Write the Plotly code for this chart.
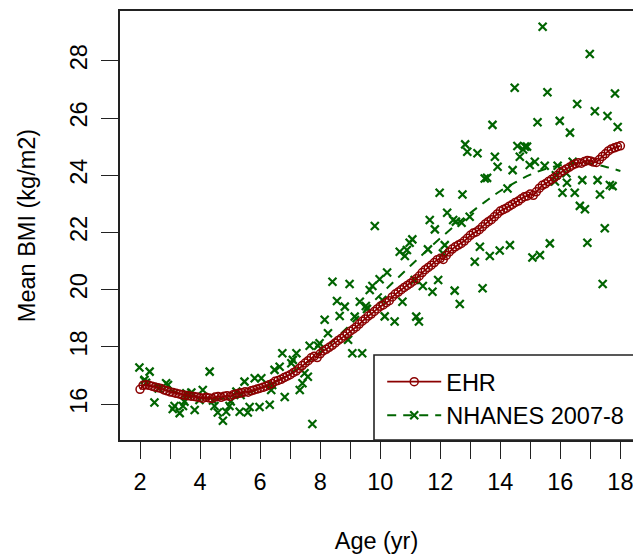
import plotly.graph_objects as go

# ---------------- data ----------------
ehr_age = [round(2 + 0.1 * i, 1) for i in range(161)]
ehr_bmi = [
    16.52, 16.66, 16.68, 16.66, 16.63, 16.60, 16.58, 16.55, 16.50, 16.47,
    16.43, 16.41, 16.38, 16.36, 16.33, 16.31, 16.30, 16.28, 16.27, 16.25,
    16.23, 16.21, 16.24, 16.22, 16.20, 16.25, 16.27, 16.24, 16.28, 16.30,
    16.27, 16.33, 16.36, 16.38, 16.40, 16.44, 16.42, 16.47, 16.50, 16.53,
    16.56, 16.59, 16.63, 16.68, 16.72, 16.80, 16.83, 16.87, 16.93, 16.98,
    17.03, 17.10, 17.16, 17.25, 17.35, 17.44, 17.52, 17.62, 17.68, 17.63,
    17.76, 17.86, 17.92, 17.99, 18.06, 18.14, 18.23, 18.30, 18.38, 18.47,
    18.55, 18.62, 18.70, 18.80, 18.90, 18.98, 19.08, 19.15, 19.24, 19.33,
    19.42, 19.47, 19.55, 19.62, 19.75, 19.85, 19.92, 20.00, 20.08, 20.15,
    20.22, 20.30, 20.38, 20.48, 20.60, 20.70, 20.78, 20.86, 20.95, 21.05,
    21.10, 21.06, 21.20, 21.32, 21.42, 21.50, 21.56, 21.62, 21.70, 21.80,
    21.90, 21.98, 22.02, 22.10, 22.20, 22.30, 22.38, 22.45, 22.55, 22.65,
    22.75, 22.80, 22.85, 22.92, 22.98, 23.05, 23.10, 23.18, 23.25, 23.28,
    23.35, 23.30, 23.42, 23.55, 23.65, 23.70, 23.78, 23.85, 23.92, 24.00,
    24.10, 24.16, 24.22, 24.28, 24.35, 24.40, 24.44, 24.42, 24.48, 24.52,
    24.50, 24.46, 24.45, 24.55, 24.66, 24.75, 24.85, 24.92, 24.96, 25.00,
    25.03,
]

nh_age = [
    1.98, 2.32, 2.15, 2.48, 2.87, 2.93, 3.09, 3.15, 3.32, 3.43, 3.48, 3.59,
    3.71, 3.82, 4.09, 4.32, 4.48, 4.59, 4.76, 4.87, 4.98, 5.21, 5.32, 5.48,
    5.59, 5.65, 5.82, 5.98, 6.04, 6.32, 6.37, 6.48, 6.65, 6.74, 6.82, 7.04,
    7.09, 7.21, 7.32, 7.41, 7.48, 7.59, 7.65, 7.74, 7.93, 3.54, 3.98, 4.43,
    5.02, 5.35, 6.40, 2.62, 2.20, 7.98,
    8.15, 8.26, 8.41, 8.56, 8.65, 8.82, 8.93, 8.98, 9.07, 9.15, 9.32, 9.40,
    9.52, 9.56, 9.65, 9.74, 9.82, 9.98,
    10.07, 10.15, 10.23, 10.48, 10.65, 10.74, 10.82, 10.89, 10.98, 11.07,
    11.15, 11.20, 11.29, 11.42, 11.59, 11.65, 11.74, 11.82, 11.93, 11.98,
    12.09, 12.15, 12.23, 12.43, 12.48, 12.52, 12.65, 12.71, 12.74, 12.83,
    12.90, 12.98, 13.15, 13.24, 13.32, 13.41, 13.48, 13.56, 13.65, 13.74,
    13.82, 13.91, 13.98, 14.24, 14.32, 14.41, 14.48, 14.57, 14.65, 14.76,
    14.82, 14.89, 14.98, 15.07, 15.15, 15.24, 15.32, 15.41, 15.48, 15.57,
    15.65, 15.82, 15.85, 15.91, 15.98, 16.07, 16.20, 16.22, 16.32, 16.41,
    16.48, 16.56, 16.65, 16.73, 16.82, 16.90, 16.98, 17.15, 17.24, 17.32,
    17.41, 17.48, 17.57, 17.65, 17.74, 17.82, 17.91,
]
nh_bmi = [
    17.28, 17.14, 16.85, 16.06, 16.73, 16.67, 15.83, 15.94, 15.69, 15.94, 16.09, 16.32,
    16.41, 15.80, 16.50, 17.14, 15.94, 15.71, 15.42, 15.74, 15.94, 16.44, 15.74, 16.79,
    15.71, 15.90, 16.91, 15.90, 16.91, 15.98, 16.50, 17.20, 17.31, 17.78, 16.25, 17.43,
    17.55, 17.78, 16.50, 16.73, 17.08, 16.96, 18.04, 15.31, 18.04, 16.38, 16.15, 16.13,
    16.10, 16.32, 16.67, 16.55, 16.75, 18.13,
    18.95, 18.48, 20.28, 19.61, 19.08, 19.41, 18.25, 20.20, 17.78, 19.06, 19.58, 17.78,
    19.43, 19.33, 19.99, 20.13, 22.23, 20.37,
    19.64, 19.07, 20.60, 18.89, 21.33, 19.58, 21.18, 21.39, 21.64, 21.76,
    20.34, 19.06, 18.89, 20.13, 21.41, 22.44, 19.93, 22.11, 20.34, 23.39,
    21.27, 21.56, 22.69, 22.44, 19.97, 22.38, 19.50, 22.34, 23.33, 25.08,
    24.82, 22.55, 20.98, 24.77, 21.50, 20.05, 23.89, 23.91, 21.18, 25.76,
    24.65, 24.30, 21.37, 23.54, 21.56, 24.18, 27.06, 25.02, 24.65, 24.90,
    25.00, 25.00, 24.36, 21.13, 24.47, 25.85, 21.21, 29.19, 24.33, 26.90,
    21.62, 23.78, 24.00, 24.33, 25.90, 23.39, 24.07, 23.74, 25.49, 24.47,
    23.39, 26.49, 22.93, 23.83, 22.81, 21.64, 28.24, 26.24, 23.83, 23.33,
    20.20, 22.15, 26.07, 23.66, 23.62, 26.86, 25.69,
]

fit_age = [2.0, 2.5, 3.0, 3.5, 4.0, 4.5, 5.0, 5.5, 6.0, 6.5, 7.0, 7.5, 8.0, 8.5,
           9.0, 9.5, 10.0, 10.5, 11.0, 11.5, 12.0, 12.5, 13.0, 13.5, 14.0, 14.5,
           15.0, 15.5, 16.0, 16.5, 17.0, 17.5, 18.0]
fit_bmi = [16.95, 16.70, 16.50, 16.33, 16.22, 16.18, 16.22, 16.35, 16.55, 16.78,
           17.08, 17.42, 17.82, 18.28, 18.78, 19.30, 19.82, 20.33, 20.83, 21.32,
           21.80, 22.25, 22.68, 23.08, 23.45, 23.75, 24.02, 24.22, 24.35, 24.42,
           24.40, 24.30, 24.15]

x_ticks = [2, 4, 6, 8, 10, 12, 14, 16, 18]
y_ticks = [16, 18, 20, 22, 24, 26, 28]

RED = "#8B0000"
GREEN = "#006400"
FONT = "Liberation Sans, Arial, Helvetica, sans-serif"

# points separated by gaps: markers only on the plot, but the legend
# shows a dashed line with an x, like the original key
nh_x, nh_y = [], []
for a, b in zip(nh_age, nh_bmi):
    nh_x += [a, None]
    nh_y += [b, None]

fig = go.Figure()
fig.add_trace(go.Scatter(
    x=fit_age, y=fit_bmi, mode="lines", line_shape="spline",
    line=dict(color=GREEN, width=2, dash="9px,7px"),
    showlegend=False, legendgroup="nh", hoverinfo="skip"))
fig.add_trace(go.Scatter(
    x=nh_x, y=nh_y, mode="lines+markers", name="NHANES 2007-8",
    legendgroup="nh", legendrank=2, connectgaps=False,
    line=dict(color=GREEN, width=2, dash="9px,7px"),
    marker=dict(symbol="x-thin-open", size=8, color=GREEN,
                line=dict(color=GREEN, width=2.2))))
fig.add_trace(go.Scatter(
    x=ehr_age, y=ehr_bmi, mode="lines+markers", name="EHR", legendrank=1,
    line=dict(color=RED, width=1.8),
    marker=dict(symbol="circle-open", size=8, color=RED,
                line=dict(color=RED, width=1.5))))

axis_common = dict(
    showgrid=False, zeroline=False, showline=True, linecolor="#222222",
    linewidth=1.6, ticks="outside", ticklen=17, tickwidth=1.2,
    tickcolor="#222222", tickfont=dict(family=FONT, size=23.5, color="black"),
    ticklabeloverflow="allow",
)

fig.update_xaxes(
    range=[1.333, 18.42], tickvals=x_ticks, mirror=True,
    minor=dict(dtick=1, tick0=0, ticks="outside", ticklen=17, tickwidth=1.2,
               tickcolor="#222222"),
    ticklabelstandoff=3,
    title=dict(text="Age (yr)", font=dict(family=FONT, size=23.5, color="black"),
               standoff=39),
    **axis_common)
fig.update_yaxes(
    range=[14.75, 29.74], tickvals=y_ticks, tickangle=-90, mirror=False,
    ticklabelstandoff=5,
    title=dict(text="Mean BMI (kg/m2)", font=dict(family=FONT, size=23.5, color="black"),
               standoff=24),
    **axis_common)

legend_left = (374 - 120) / 513.0
legend_top = (440 - 355) / 429.0
fig.add_shape(type="rect", xref="paper", yref="paper",
              x0=legend_left, x1=1.05, y0=0, y1=legend_top,
              line=dict(color="#222222", width=1.6), fillcolor="white",
              layer="below")

fig.update_layout(
    width=633, height=556, autosize=False,
    margin=dict(l=120, r=0, t=11, b=116),
    paper_bgcolor="white", plot_bgcolor="white",
    showlegend=True,
    legend=dict(x=legend_left + 0.016, y=0.005, xanchor="left", yanchor="bottom",
                bgcolor="rgba(0,0,0,0)", borderwidth=0, itemwidth=54,
                font=dict(family=FONT, size=23.5, color="black"),
                traceorder="normal", tracegroupgap=0),
)

fig.write_html(
    "out.html",
    config={"displayModeBar": False},
    post_script="document.body.style.margin='0';document.body.style.overflow='hidden';",
)
